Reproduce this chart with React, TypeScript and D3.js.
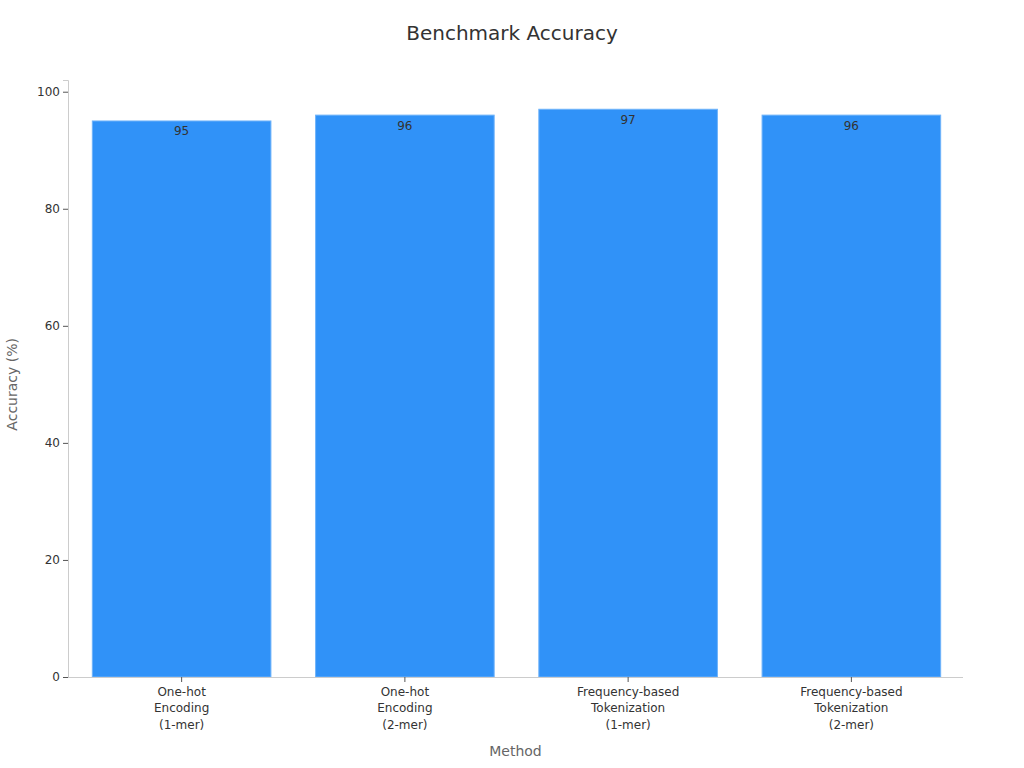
import { useEffect, useRef } from 'react';
import * as d3 from 'd3';

const methods = [
  'One-hot\nEncoding\n(1-mer)',
  'One-hot\nEncoding\n(2-mer)',
  'Frequency-based\nTokenization\n(1-mer)',
  'Frequency-based\nTokenization\n(2-mer)'
];
const accuracy = [95, 96, 97, 96];
const yTicks = [0, 20, 40, 60, 80, 100];

const width = 1024;
const height = 768;
const margin = { top: 80, right: 61, bottom: 91, left: 68 };
const font = '"DejaVu Sans", sans-serif';

export default function App() {
  const ref = useRef<SVGSVGElement>(null);

  useEffect(() => {
    const svg = d3.select(ref.current);
    svg.selectAll('*').remove();

    // bands sit a couple of pixels right of the axis line
    const x = d3
      .scaleBand<string>()
      .domain(methods)
      .range([margin.left + 2, width - margin.right])
      .paddingInner(0.2)
      .paddingOuter(0.1);

    const y = d3
      .scaleLinear()
      .domain([0, 102])
      .range([height - margin.bottom, margin.top]);

    svg
      .append('text')
      .attr('x', width / 2)
      .attr('y', 40)
      .attr('text-anchor', 'middle')
      .attr('font-size', 20)
      .attr('fill', '#333')
      .text('Benchmark Accuracy');

    // bars
    svg
      .append('g')
      .selectAll('rect')
      .data(accuracy)
      .join('rect')
      .attr('x', (_, i) => x(methods[i])!)
      .attr('y', (d) => y(d))
      .attr('width', x.bandwidth())
      .attr('height', (d) => y(0) - y(d))
      .attr('fill', '#3092f8')
      .attr('stroke', '#6fb3fa')
      .attr('stroke-width', 1);

    // value labels
    svg
      .append('g')
      .selectAll('text')
      .data(accuracy)
      .join('text')
      .attr('x', (_, i) => x(methods[i])! + x.bandwidth() / 2)
      .attr('y', (d) => y(d) + 14.5)
      .attr('text-anchor', 'middle')
      .attr('font-size', 12)
      .attr('fill', '#333')
      .text((d) => d);

    // y axis
    const yAxis = svg
      .append('g')
      .attr('transform', `translate(${margin.left},0)`)
      .call(d3.axisLeft(y).tickValues(yTicks).tickSize(5).tickPadding(3));
    yAxis.select('.domain').attr('stroke', '#ccc');
    yAxis.selectAll('.tick line').attr('stroke', '#555');
    yAxis.selectAll('.tick text').attr('font-size', 12).attr('font-family', font).attr('fill', '#333');

    // x axis
    const xAxis = svg
      .append('g')
      .attr('transform', `translate(0,${height - margin.bottom})`)
      .call(d3.axisBottom(x).tickSize(5).tickSizeOuter(0).tickPadding(5));
    xAxis
      .select('.domain')
      .attr('stroke', '#ccc')
      .attr('d', `M${margin.left},0.5H${width - margin.right}`);
    xAxis.selectAll('.tick line').attr('stroke', '#555');
    xAxis
      .selectAll<SVGTextElement, string>('.tick text')
      .attr('font-size', 12)
      .attr('font-family', font)
      .attr('fill', '#333')
      .text(null)
      .each(function (d) {
        const t = d3.select(this);
        d.split('\n').forEach((line, i) => {
          t.append('tspan')
            .attr('x', 0)
            .attr('dy', i === 0 ? '0.71em' : '1.38em')
            .text(line);
        });
      })
      .attr('dy', null);

    svg
      .append('text')
      .attr('x', margin.left + (width - margin.left - margin.right) / 2)
      .attr('y', 756)
      .attr('text-anchor', 'middle')
      .attr('font-size', 14)
      .attr('fill', '#666')
      .text('Method');

    svg
      .append('text')
      .attr('transform', `translate(17,${y(50)}) rotate(-90)`)
      .attr('text-anchor', 'middle')
      .attr('font-size', 14)
      .attr('fill', '#666')
      .text('Accuracy (%)');
  }, []);

  return (
    <svg
      ref={ref}
      width={width}
      height={height}
      viewBox={`0 0 ${width} ${height}`}
      style={{ position: 'absolute', left: 0, top: 0, fontFamily: font, background: '#fff' }}
    />
  );
}
